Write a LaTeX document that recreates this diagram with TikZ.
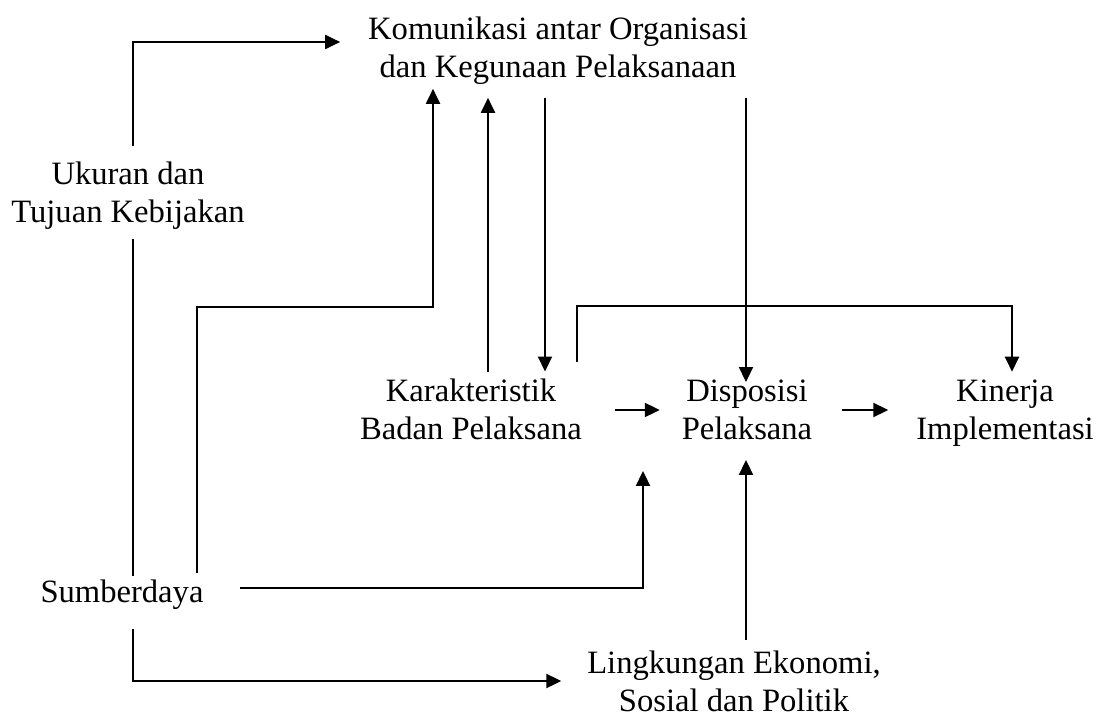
\documentclass[tikz,border=0pt]{standalone}
\usepackage{fontspec}
\setmainfont{Liberation Serif}
\usetikzlibrary{arrows.meta,calc}
\begin{document}
\begin{tikzpicture}[x=0.5pt,y=-0.5pt,line width=1pt,
  arr/.style={-{Triangle[length=7.5pt,width=7pt]}},
  lbl/.style={align=center,inner sep=0pt,font=\fontsize{16.3}{19}\selectfont}]
\useasboundingbox (0,0) rectangle (1103,717);
\node[lbl] (komunikasi) at (558,51) {Komunikasi antar Organisasi\\dan Kegunaan Pelaksanaan};
\node[lbl] (ukuran) at (128,196) {Ukuran dan\\Tujuan Kebijakan};
\node[lbl] (karakteristik) at (471,409) {Karakteristik\\Badan Pelaksana};
\node[lbl] (disposisi) at (747,410) {Disposisi\\Pelaksana};
\node[lbl] (kinerja) at (1005,413) {Kinerja\\Implementasi};
\node[lbl] (sumberdaya) at (122,595) {Sumberdaya};
\node[lbl] (lingkungan) at (734,681) {Lingkungan Ekonomi,\\Sosial dan Politik};
\draw[arr] ($(ukuran.north)+(5,-15)$) |- ($(komunikasi.west)+(-27,-9)$);
\draw ($(ukuran.south)+(5,8)$) -- ($(sumberdaya.north)+(11,-3)$);
\draw[arr] ($(sumberdaya.north)+(75,-6)$) |- ($(komunikasi.south)+(-125,221)$) -- ($(komunikasi.south)+(-125,3)$);
\draw[arr] ($(karakteristik.north)+(17,-6)$) -- ($(komunikasi.south)+(-70,12)$);
\draw[arr] ($(komunikasi.south)+(-13,12)$) -- ($(karakteristik.north)+(74,-6)$);
\draw[arr] ($(karakteristik.north)+(106,-16)$) |- ($(kinerja.north)+(7,-73)$) -- ($(kinerja.north)+(7,-7)$);
\draw[arr] ($(komunikasi.south)+(188,12)$) -- ($(disposisi.north)+(-1,3)$);
\draw[arr] ($(karakteristik.east)+(32,1)$) -- ($(disposisi.west)+(-21,0)$);
\draw[arr] ($(disposisi.east)+(29,0)$) -- ($(kinerja.west)+(-27,-3)$);
\draw[arr] ($(sumberdaya.east)+(36,-7)$) -| ($(disposisi.south)+(-104,30)$);
\draw[arr] ($(lingkungan.north)+(12,-10)$) -- ($(disposisi.south)+(-1,19)$);
\draw[arr] ($(sumberdaya.south)+(11,18)$) |- ($(lingkungan.west)+(-25,0)$);
\end{tikzpicture}
\end{document}
